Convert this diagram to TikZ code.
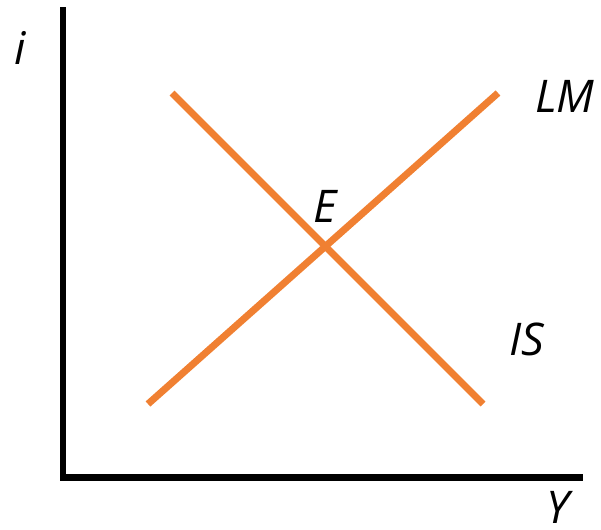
\documentclass[tikz,border=0pt]{standalone}
\usepackage{fontspec}
\setmainfont{Open Sans}
\definecolor{curveorange}{RGB}{240,128,50}
\tikzset{
  axis/.style={line width=6.5pt, line cap=rect},
  curve/.style={line width=7pt, color=curveorange},
  lbl/.style={font=\itshape\fontsize{45}{45}\selectfont, inner sep=0pt, anchor=base west}
}
\begin{document}
\begin{tikzpicture}[x=1pt,y=-1pt]
\useasboundingbox (0,0) rectangle (601,529);
% axes
\coordinate (top) at (63,10);
\coordinate (origin) at (63,477.5);
\coordinate (right) at (580,477.5);
\draw[axis] (top) -- (origin) -- (right);
% curves
\coordinate (IS1) at (172,93);
\coordinate (IS2) at (483,404);
\coordinate (LM1) at (148,404);
\coordinate (LM2) at (498,93);
\draw[curve] (IS1) -- (IS2);
\draw[curve] (LM1) -- (LM2);
% labels
\node[lbl] (ilab) at (14,65) {i};
\node[lbl] (Elab) at (313,222) {E};
\node[lbl] (LMlab) at (535,113) {LM};
\node[lbl] (ISlab) at (509,355) {IS};
\node[lbl] (Ylab) at (546,523) {Y};
\end{tikzpicture}
\end{document}
